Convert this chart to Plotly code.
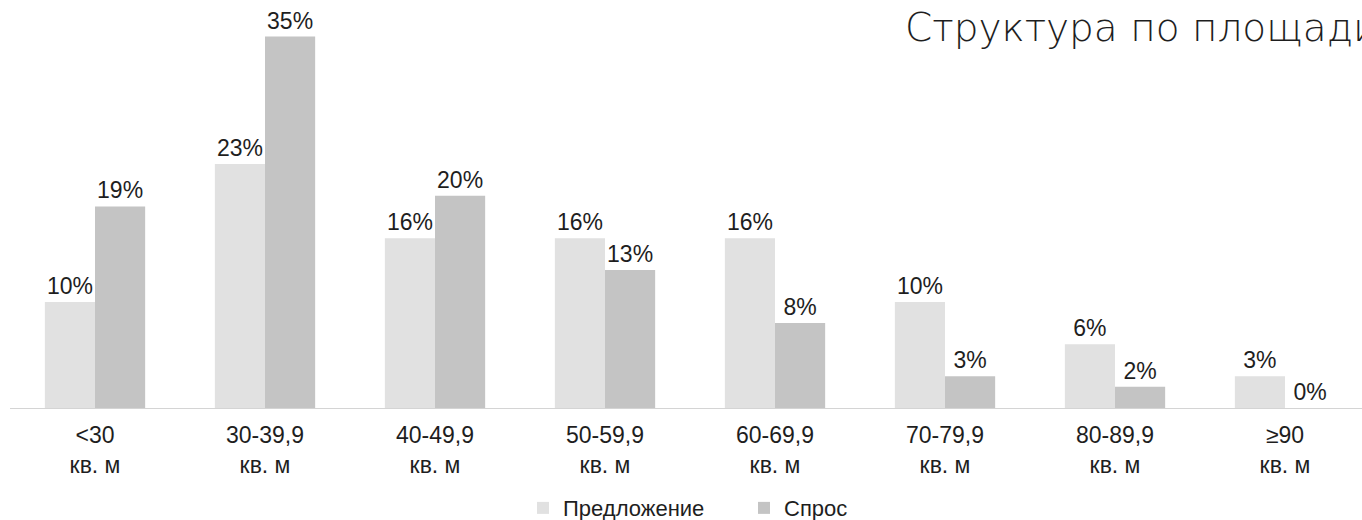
import plotly.graph_objects as go

# Категории площади квартир и доли предложения/спроса, %
categories = ["<30", "30-39,9", "40-49,9", "50-59,9", "60-69,9", "70-79,9", "80-89,9", "≥90"]
unit_label = "кв. м"
supply = [10, 23, 16, 16, 16, 10, 6, 3]
demand = [19, 35, 20, 13, 8, 3, 2, 0]
series_names = ["Предложение", "Спрос"]
title_text = "Структура по площади"

LIGHT = "#e1e1e1"
DARK = "#c4c4c4"
TEXT = "#1e1e1e"
BASE_FONT = "Liberation Sans, Arial, sans-serif"

fig = go.Figure()
for name, values, color in [(series_names[0], supply, LIGHT), (series_names[1], demand, DARK)]:
    fig.add_trace(go.Bar(
        x=categories,
        y=values,
        name=name,
        marker=dict(color=color, line=dict(width=0)),
        text=[f"{v}%" for v in values],
        textposition="outside",
        textfont=dict(family=BASE_FONT, size=23, color=TEXT),
        cliponaxis=False,
    ))

# подписи оси X в две строки: диапазон и единица измерения
tick_text = [f"{c}<br>{unit_label}" for c in categories]

fig.update_layout(
    width=1380,
    height=520,
    margin=dict(l=10, r=10, t=26, b=112, autoexpand=False),
    paper_bgcolor="white",
    plot_bgcolor="white",
    barmode="group",
    bargap=0.41,
    bargroupgap=0,
    font=dict(family=BASE_FONT, color=TEXT),
    title=dict(
        text=title_text,
        x=905 / 1380, xref="container", xanchor="left",
        y=1 - 27 / 520, yref="container", yanchor="middle",
        font=dict(family="DejaVu Sans, sans-serif", size=39, color=TEXT, weight=300),
    ),
    xaxis=dict(
        showline=True, linecolor="#d4d4d4", linewidth=1,
        showgrid=False, ticks="", zeroline=False,
        tickmode="array", tickvals=categories, ticktext=tick_text,
        tickfont=dict(family=BASE_FONT, size=23, color=TEXT),
        ticklabelstandoff=6,
    ),
    yaxis=dict(visible=False, range=[0, 36]),
    legend=dict(
        orientation="h", x=0.5397, xanchor="center",
        y=-0.262, yanchor="middle", yref="paper",
        font=dict(family=BASE_FONT, size=22, color=TEXT),
        entrywidth=176, itemwidth=30,
    ),
    showlegend=True,
)

fig.write_html("out.html")
